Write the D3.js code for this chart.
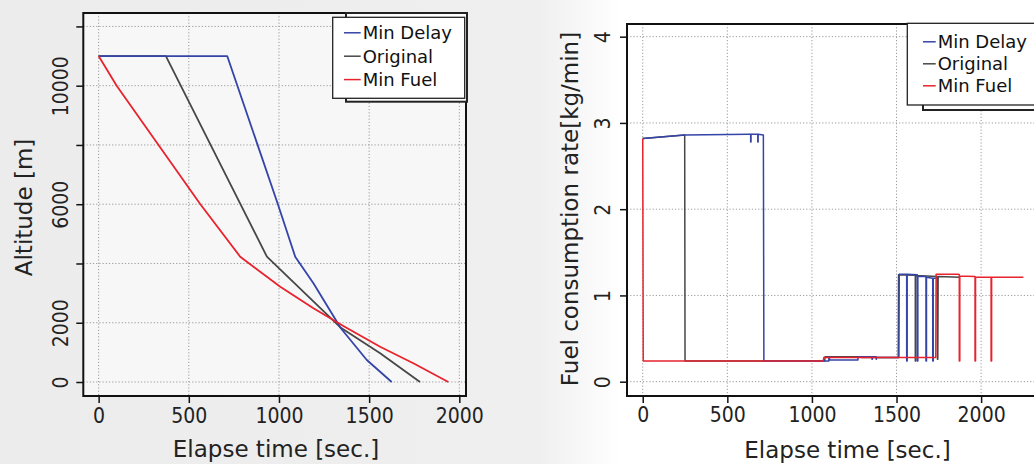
<!DOCTYPE html>
<html lang="en">
<head>
<meta charset="UTF-8">
<title>Altitude and fuel consumption</title>
<script src="https://cdn.jsdelivr.net/npm/d3@7/dist/d3.min.js"></script>
<style>
  html, body { margin: 0; padding: 0; background: #fff; }
  svg { display: block; }
  .tick text { font-family: "Liberation Sans Narrow", "DejaVu Sans Condensed", sans-serif; font-size: 21px; fill: #222; }
  .title { font-family: "DejaVu Sans", sans-serif; font-size: 23px; fill: #222; }
  .leg { font-family: "DejaVu Sans", sans-serif; font-size: 18px; fill: #111; }
</style>
</head>
<body>
<svg id="chart" width="1034" height="464"></svg>
<script>
// series names and colours
var seriesNames = ['Min Delay', 'Original', 'Min Fuel']
var seriesColors = ['#3444a8', '#474747', '#e8232d']

// left panel: altitude [m] vs elapse time [sec.]
var altTicksX = [0, 500, 1000, 1500, 2000]
var altTicksY = [0, 2000, 4000, 6000, 8000, 10000, 12000]
var altLabelsY = [0, 2000, 6000, 10000]
var altMinDelay = [[0, 11000], [713, 11000], [994, 6000], [1090, 4230], [1191, 3330], [1343, 1815], [1487, 742], [1625, 0]]
var altOriginal = [[0, 11000], [373, 11000], [933, 4230], [1339, 1850], [1561, 968], [1782, 0]]
var altMinFuel = [[0, 11000], [100, 10000], [564, 6000], [785, 4229], [1007, 3216], [1191, 2487], [1357, 1890], [1561, 1191], [1745, 631], [1939, 0]]

// right panel: fuel consumption rate [kg/min] vs elapse time [sec.]
var fuelTicksX = [0, 500, 1000, 1500, 2000]
var fuelTicksY = [0, 1, 2, 3, 4]
var fuelMinDelay = [[0, 2.82], [250, 2.86], [630, 2.87], [638, 2.87], [638, 2.78], [640, 2.78], [640, 2.87],
  [680, 2.87], [680, 2.78], [682, 2.78], [682, 2.87], [713, 2.86], [716, 0.24], [1100, 0.24], [1100, 0.29],
  [1104, 0.29], [1104, 0.25], [1272, 0.25], [1272, 0.29], [1355, 0.29], [1355, 0.26], [1357, 0.26], [1357, 0.29],
  [1380, 0.29], [1380, 0.26], [1382, 0.28], [1514, 0.28], [1516, 1.245], [1560, 1.245], [1560, 0.24], [1563, 0.24],
  [1563, 1.245], [1623, 1.24], [1623, 0.24], [1626, 0.24], [1626, 1.22], [1674, 1.22], [1674, 0.24], [1677, 0.24],
  [1677, 1.21], [1714, 1.2], [1714, 0.24], [1717, 0.24], [1717, 1.2], [1742, 1.2]]
var fuelOriginal = [[0, 2.82], [245, 2.86], [248, 2.86], [250, 0.24], [1075, 0.24], [1078, 0.29], [1290, 0.29],
  [1292, 0.28], [1510, 0.28], [1512, 1.24], [1611, 1.235], [1611, 0.24], [1614, 0.24], [1614, 1.23], [1740, 1.22],
  [1742, 0.26], [1744, 0.26], [1746, 1.22], [1875, 1.21]]
var fuelMinFuel = [[0, 2.82], [3, 0.24], [1067, 0.24], [1070, 0.28], [1732, 0.28], [1734, 1.245], [1865, 1.245],
  [1871, 1.24], [1871, 0.24], [1874, 0.24], [1874, 1.225], [1964, 1.22], [1964, 0.24], [1967, 0.24], [1967, 1.215],
  [2059, 1.21], [2059, 0.24], [2062, 0.24], [2062, 1.21], [2250, 1.21]]

var svg = d3.select('#chart')
var fmt = d3.format('d')

// scanned-paper look: grey on the left fading to white
var grad = svg.append('defs').append('linearGradient').attr('id', 'bg')
grad.append('stop').attr('offset', '0%').attr('stop-color', '#ececec')
grad.append('stop').attr('offset', '52%').attr('stop-color', '#efefef')
grad.append('stop').attr('offset', '60%').attr('stop-color', '#ffffff')
svg.append('rect').attr('width', 1034).attr('height', 464).attr('fill', 'url(#bg)')

function panel(o) {
  var g = svg.append('g')
  var x = d3.scaleLinear().domain(o.xDomain).range(o.xRange)
  var y = d3.scaleLinear().domain(o.yDomain).range(o.yRange)
  var x0 = o.xRange[0], x1 = o.xRange[1], y0 = o.yRange[1], y1 = o.yRange[0]

  g.append('rect').attr('x', x0).attr('y', y0).attr('width', x1 - x0).attr('height', y1 - y0)
    .attr('fill', o.inner)

  // dotted grid
  g.selectAll('.gx').data(o.ticksX).enter().append('line')
    .attr('x1', d => x(d)).attr('x2', d => x(d)).attr('y1', y0).attr('y2', y1)
    .attr('stroke', '#9a9a9a').attr('stroke-dasharray', '1.2,2').attr('stroke-width', 1)
  g.selectAll('.gy').data(o.ticksY).enter().append('line')
    .attr('y1', d => y(d)).attr('y2', d => y(d)).attr('x1', x0).attr('x2', x1)
    .attr('stroke', '#9a9a9a').attr('stroke-dasharray', '1.2,2').attr('stroke-width', 1)

  var line = d3.line().x(d => x(d[0])).y(d => y(d[1]))
  // draw order: Original, Min Delay, Min Fuel
  ;[1, 0, 2].forEach(function (i) {
    g.append('path').datum(o.series[i]).attr('d', line)
      .attr('fill', 'none').attr('stroke', seriesColors[i])
      .attr('stroke-width', o.lw).attr('stroke-linejoin', 'round')
  })

  // axes
  var ax = g.append('g').attr('transform', 'translate(0,' + y1 + ')')
    .call(d3.axisBottom(x).tickValues(o.ticksX).tickSize(7).tickSizeOuter(0).tickFormat(fmt))
  ax.select('.domain').remove()
  ax.selectAll('line').attr('stroke', '#111').attr('stroke-width', 1.5)
  ax.selectAll('text').attr('y', o.xLabelOff).attr('dy', 0)

  var ay = g.append('g').attr('transform', 'translate(' + x0 + ',0)')
    .call(d3.axisLeft(y).tickValues(o.ticksY).tickSize(7).tickSizeOuter(0)
      .tickFormat(d => o.labelsY.indexOf(d) >= 0 ? fmt(d) : ''))
  ay.select('.domain').remove()
  ay.selectAll('line').attr('stroke', '#111').attr('stroke-width', 1.5)
  ay.selectAll('text').attr('transform', 'rotate(-90)').attr('text-anchor', 'middle')
    .attr('x', 0).attr('y', -o.yLabelOff).attr('dy', 0)

  g.append('rect').attr('x', x0).attr('y', y0).attr('width', x1 - x0).attr('height', y1 - y0)
    .attr('fill', 'none').attr('stroke', '#111').attr('stroke-width', 2)

  g.append('text').attr('class', 'title').attr('text-anchor', 'middle')
    .attr('x', o.xTitle[0]).attr('y', o.xTitle[1]).text('Elapse time [sec.]')
  g.append('text').attr('class', 'title').attr('text-anchor', 'middle')
    .attr('transform', 'translate(' + o.yTitle[0] + ',' + o.yTitle[1] + ') rotate(-90)').text(o.yTitleText)

  // legend with offset shadow
  var L = o.legend
  g.append('rect').attr('x', L.sx).attr('y', L.sy).attr('width', L.sw).attr('height', L.sh)
    .attr('fill', '#fff').attr('stroke', '#222').attr('stroke-width', 2)
  g.append('rect').attr('x', L.x).attr('y', L.y).attr('width', L.w).attr('height', L.h)
    .attr('fill', '#fff').attr('stroke', '#222').attr('stroke-width', 1.3)
  seriesNames.forEach(function (name, i) {
    var by = L.base + i * L.step
    g.append('line').attr('x1', L.lx).attr('x2', L.tx - 2).attr('y1', by - 6.5).attr('y2', by - 6.5)
      .attr('stroke', seriesColors[i]).attr('stroke-width', 1.5)
    g.append('text').attr('class', 'leg').attr('x', L.tx).attr('y', by).text(name)
  })
}

panel({
  xDomain: [-85, 2037], xRange: [83.3, 466],
  yDomain: [-472, 12453], yRange: [396, 13],
  ticksX: altTicksX, ticksY: altTicksY, labelsY: altLabelsY,
  series: [altMinDelay, altOriginal, altMinFuel], lw: 1.8, inner: '#f7f7f7',
  xLabelOff: 27, yLabelOff: 15,
  xTitle: [276, 456.5], yTitle: [32, 207.5], yTitleText: 'Altitude [m]',
  legend: { x: 332.7, y: 17.3, w: 132, h: 81, sx: 346, sy: 13, sw: 121, sh: 88.7,
    lx: 344, tx: 362.7, base: 39.3, step: 23.4 }
})

panel({
  xDomain: [-93, 2400], xRange: [627, 1048.8],
  yDomain: [-0.166, 4.147], yRange: [396, 24],
  ticksX: fuelTicksX, ticksY: fuelTicksY, labelsY: fuelTicksY,
  series: [fuelMinDelay, fuelOriginal, fuelMinFuel], lw: 1.5, inner: '#ffffff',
  xLabelOff: 26, yLabelOff: 17,
  xTitle: [847.5, 458], yTitle: [578, 209], yTitleText: 'Fuel consumption rate[kg/min]',
  legend: { x: 907.3, y: 23.3, w: 140, h: 81.7, sx: 923, sy: 24, sw: 130, sh: 86,
    lx: 923, tx: 937.7, base: 48.3, step: 22 }
})
</script>
</body>
</html>
